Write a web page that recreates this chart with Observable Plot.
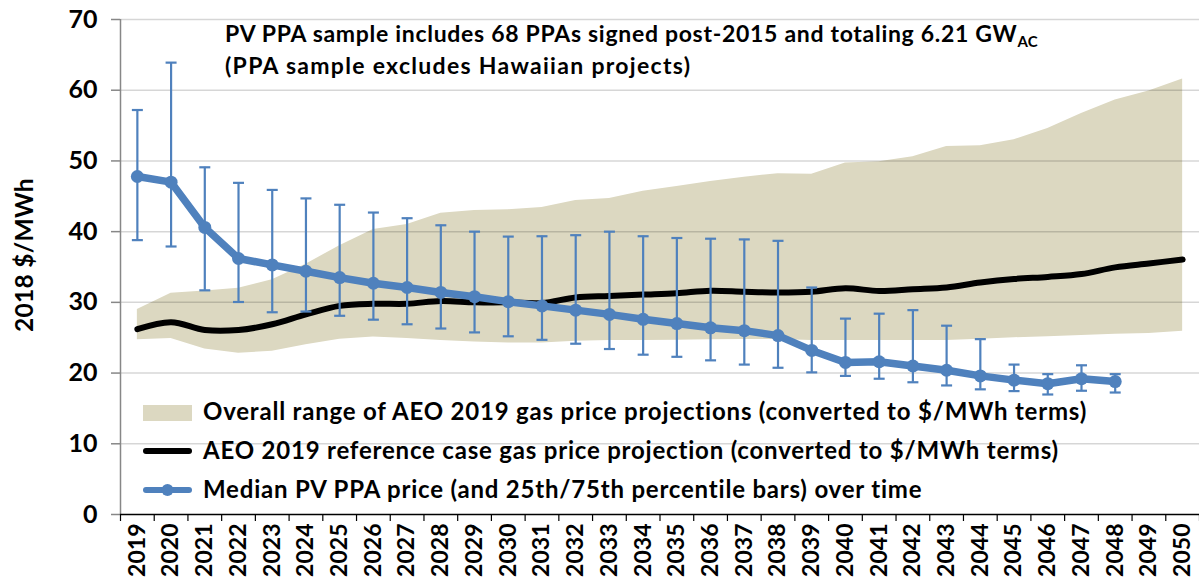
<!DOCTYPE html>
<html><head><meta charset="utf-8">
<script src="https://cdn.jsdelivr.net/npm/d3@7"></script>
<script src="https://cdn.jsdelivr.net/npm/@observablehq/plot@0.6"></script>
<style>body{margin:0;background:#fff;} svg{display:block;}</style>
</head><body><div id="chart"></div>
<script>
// ---- data ----
const years = [2019,2020,2021,2022,2023,2024,2025,2026,2027,2028,2029,2030,2031,2032,2033,2034,
               2035,2036,2037,2038,2039,2040,2041,2042,2043,2044,2045,2046,2047,2048,2049,2050];
const rangeHigh = [29.0,31.3,31.6,32.0,33.2,35.4,38.0,40.3,41.0,42.6,43.0,43.1,43.4,44.4,44.7,45.7,
                   46.4,47.1,47.7,48.2,48.1,49.7,49.9,50.6,52.05,52.15,53.0,54.6,56.7,58.6,59.9,61.6];
const rangeLow  = [24.7,24.9,23.4,22.8,23.1,24.0,24.8,25.1,24.9,24.6,24.4,24.25,24.25,24.5,24.6,24.6,
                   24.65,24.7,24.75,24.75,24.6,24.6,24.6,24.6,24.6,24.8,25.0,25.15,25.3,25.5,25.6,25.9];
const refCase   = [26.2,27.2,26.1,26.1,26.9,28.3,29.5,29.8,29.8,30.2,30.0,30.0,29.9,30.7,30.9,31.1,
                   31.3,31.65,31.5,31.4,31.5,32.0,31.6,31.85,32.1,32.8,33.3,33.6,34.0,34.95,35.5,36.05];
const ppaYears  = [2019,2020,2021,2022,2023,2024,2025,2026,2027,2028,2029,2030,2031,2032,2033,2034,
                   2035,2036,2037,2038,2039,2040,2041,2042,2043,2044,2045,2046,2047,2048];
const ppaMedian = [47.8,47.0,40.6,36.2,35.3,34.4,33.5,32.7,32.1,31.4,30.8,30.1,29.5,28.9,28.3,27.6,
                   27.0,26.4,26.0,25.3,23.2,21.5,21.6,21.0,20.4,19.6,19.0,18.5,19.2,18.8];
const ppaP75    = [57.2,63.9,49.1,46.9,45.9,44.7,43.8,42.7,41.9,40.9,40.0,39.3,39.35,39.5,40.0,39.35,
                   39.1,39.0,38.9,38.7,32.1,27.7,28.4,28.9,26.7,24.8,21.2,19.85,21.1,19.85];
const ppaP25    = [38.8,37.9,31.7,30.05,28.6,28.7,28.1,27.55,26.9,26.3,25.75,25.2,24.7,24.15,23.4,22.6,
                   22.3,21.8,21.2,20.75,20.1,19.6,19.2,18.7,18.25,17.7,17.45,16.97,17.5,17.25];
const yTicks = [0,10,20,30,40,50,60,70];
const yLabel = "2018 $/MWh";
const noteLine1 = "PV PPA sample includes 68 PPAs signed post-2015 and totaling 6.21 GW";
const noteSub = "AC";
const noteLine2 = "(PPA sample excludes Hawaiian projects)";
const legendLabels = [
  "Overall range of AEO 2019 gas price projections (converted to $/MWh terms)",
  "AEO 2019 reference case gas price projection (converted to $/MWh terms)",
  "Median PV PPA price (and 25th/75th percentile bars) over time"
];

// ---- styles ----
const FONT = "Lato, 'Open Sans', sans-serif";
const BEIGE = "#dcd8c1", BLUE = "#4f81bd";

const gasRows = years.map((year, i) => ({year, low: rangeLow[i], high: rangeHigh[i], ref: refCase[i]}));
const ppaRows = ppaYears.map((year, i) => ({year, median: ppaMedian[i], p25: ppaP25[i], p75: ppaP75[i]}));
const xBounds = [...years.map(y => y - 0.5), years[years.length - 1] + 0.5];
const capSymbol = {draw(ctx) { ctx.moveTo(-5.5, 0); ctx.lineTo(5.5, 0); }};

const chart = Plot.plot({
  width: 1199, height: 581,
  marginLeft: 120, marginRight: 0, marginTop: 19, marginBottom: 67,
  x: {type: "linear", domain: [xBounds[0], xBounds[xBounds.length - 1]]},
  y: {domain: [0, 70]},
  style: {fontFamily: FONT, background: "#fff", color: "#000"},
  marks: [
    Plot.areaY(gasRows, {x: "year", y1: "low", y2: "high", fill: BEIGE}),
    Plot.ruleY(yTicks.filter(t => t > 0), {stroke: "#000", strokeOpacity: 0.16, strokeWidth: 1.5}),
    Plot.axisY({ticks: yTicks, tickSize: 9, tickPadding: 14, fontSize: 25, fontWeight: "bold",
                label: null, stroke: "#878787", strokeWidth: 1.5}),
    Plot.ruleX([xBounds[0]], {stroke: "#878787", strokeWidth: 1.5}),
    Plot.axisX({ticks: years, tickSize: 0, tickPadding: 9, tickRotate: -90, fontSize: 23,
                fontWeight: "bold", label: null, tickFormat: d => String(d)}),
    Plot.axisX({ticks: xBounds, tickSize: 7, tickFormat: () => "", label: null, strokeWidth: 1.2}),
    Plot.ruleY([0], {stroke: "#000", strokeWidth: 1.5}),
    Plot.lineY(gasRows, {x: "year", y: "ref", stroke: "#000", strokeWidth: 6, curve: "catmull-rom"}),
    Plot.ruleX(ppaRows, {x: "year", y1: "p25", y2: "p75", stroke: BLUE, strokeWidth: 2.2}),
    Plot.dot(ppaRows, {x: "year", y: "p25", symbol: capSymbol, stroke: BLUE, strokeWidth: 2.2, r: 5}),
    Plot.dot(ppaRows, {x: "year", y: "p75", symbol: capSymbol, stroke: BLUE, strokeWidth: 2.2, r: 5}),
    Plot.lineY(ppaRows, {x: "year", y: "median", stroke: BLUE, strokeWidth: 7.5}),
    Plot.dot(ppaRows, {x: "year", y: "median", fill: BLUE, r: 6.5})
  ]
});
document.getElementById("chart").append(chart);

// ---- overlay text: y label, note, legend ----
const svg = d3.select(chart);
const g = svg.append("g").attr("font-family", FONT).attr("font-weight", "bold")
  .attr("fill", "#000").attr("text-anchor", "start");

g.append("text").attr("transform", "translate(33,255) rotate(-90)")
  .attr("text-anchor", "middle").attr("font-size", 24.5).attr("letter-spacing", 0.3).text(yLabel);

const n1 = g.append("text").attr("x", 225).attr("y", 41.5).attr("font-size", 23)
  .attr("letter-spacing", 0.7);
n1.append("tspan").text(noteLine1);
n1.append("tspan").attr("font-size", 15).attr("dy", 5).attr("letter-spacing", 0.3).text(noteSub);
g.append("text").attr("x", 225).attr("y", 74).attr("font-size", 23).attr("letter-spacing", 1.3)
  .text(noteLine2);

const lg = g.append("g");
lg.append("rect").attr("x", 143).attr("y", 405).attr("width", 49).attr("height", 16).attr("fill", BEIGE);
lg.append("line").attr("x1", 146).attr("x2", 189).attr("y1", 451).attr("y2", 451)
  .attr("stroke", "#000").attr("stroke-width", 6).attr("stroke-linecap", "round");
lg.append("line").attr("x1", 146).attr("x2", 189).attr("y1", 490).attr("y2", 490)
  .attr("stroke", BLUE).attr("stroke-width", 6).attr("stroke-linecap", "round");
lg.append("circle").attr("cx", 167.5).attr("cy", 490).attr("r", 6).attr("fill", BLUE);
[420, 458.5, 497.5].forEach((y, i) => {
  lg.append("text").attr("x", 203).attr("y", y).attr("font-size", 24).attr("letter-spacing", 0.8)
    .text(legendLabels[i]);
});
</script>
</body></html>
